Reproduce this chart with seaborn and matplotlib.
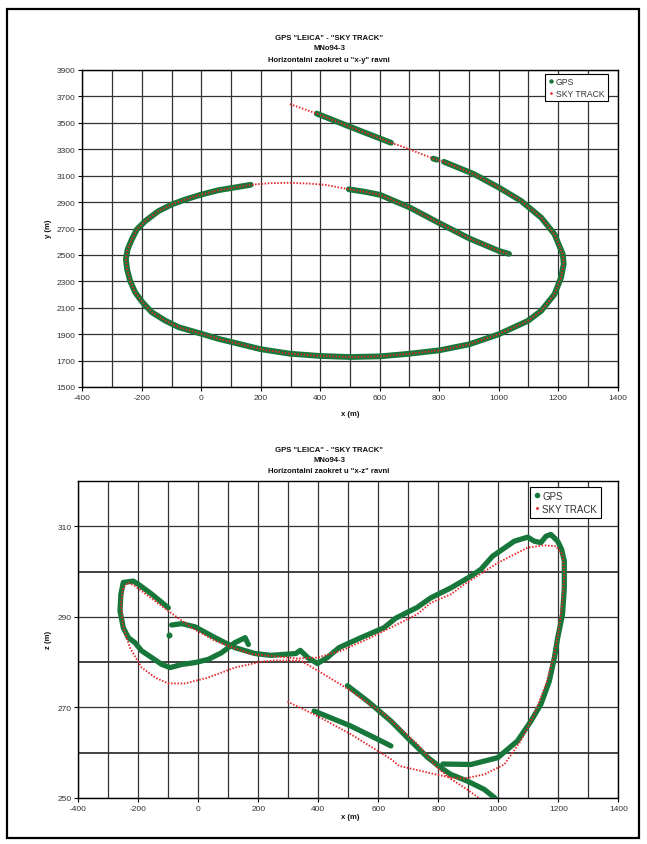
import numpy as np
import pandas as pd
import matplotlib
matplotlib.use("Agg")
import matplotlib.pyplot as plt
import seaborn as sns
from matplotlib.lines import Line2D
from matplotlib.patches import Rectangle
from matplotlib.ticker import MultipleLocator, FixedLocator

# ---------------- DATA: top chart (x-y plane) ----------------
sky_xy_x = [298, 385, 500, 638, 669, 782, 816, 917, 1000, 1075, 1143, 1188, 1216, 1219, 1210,
            1188, 1143, 1098, 1000, 901, 801, 701, 601, 500, 399, 298, 200, 124, 57, 0,
            -77, -122, -167, -198, -223, -240, -250, -254, -248, -234, -217, -189, -145,
            -100, -55, 0, 57, 124, 166, 230, 298, 360, 416, 494, 550, 601, 701, 801, 901,
            1000, 1035]
sky_xy_y = [3642, 3572, 3470, 3349, 3326, 3228, 3205, 3112, 3011, 2910, 2783, 2657, 2505, 2430, 2328,
            2202, 2076, 2000, 1899, 1823, 1778, 1752, 1732, 1727, 1735, 1752, 1786, 1828, 1865, 1903,
            1953, 2003, 2066, 2141, 2217, 2305, 2392, 2468, 2543, 2618, 2693, 2756, 2831,
            2882, 2919, 2957, 2990, 3015, 3031, 3043, 3046, 3040, 3031, 2998, 2978, 2955, 2859, 2740, 2625,
            2531, 2505]

gps_xy_a_x = [388, 500, 638]
gps_xy_a_y = [3570, 3470, 3349]
gps_xy_b_x = [780, 792]
gps_xy_b_y = [3229, 3221]
gps_xy_c_x = [816, 917, 1000, 1075, 1143, 1188, 1216, 1219, 1210, 1188, 1143, 1098, 1000, 901, 801,
              701, 601, 500, 399, 298, 200, 124, 57, 0, -77, -122, -167, -198, -223, -240, -250,
              -254, -248, -234, -217, -189, -145, -100, -55, 0, 57, 124, 166]
gps_xy_c_y = [3205, 3112, 3011, 2910, 2783, 2657, 2505, 2430, 2328, 2202, 2076, 2000, 1899, 1823, 1778,
              1752, 1732, 1727, 1735, 1752, 1786, 1828, 1865, 1903, 1953, 2003, 2066, 2141, 2217, 2305, 2392,
              2468, 2543, 2618, 2693, 2756, 2831, 2882, 2919, 2957, 2990, 3015, 3031]
gps_xy_d_x = [496, 550, 601, 701, 801, 901, 1000, 1035]
gps_xy_d_y = [2997, 2978, 2955, 2859, 2740, 2625, 2531, 2508]

# ---------------- DATA: bottom chart (x-z plane) ----------------
sky_xz_x = [297, 397, 508, 642, 669, 786, 842, 887, 953, 1020, 1075, 1120, 1159, 1187, 1203, 1214,
            1220, 1214, 1192, 1153, 1098, 998, 887, 842, 775, 730, 653, 564, 475, 397, 330, 256,
            175, 145, 56, -22, -100, -167, -211, -233, -250, -258, -250, -228, -189, -144, -100,
            -44, 33, 122, 211, 256, 342, 419, 508, 619, 730, 797, 842, 887, 942, 952]
sky_xz_z = [271.3, 268.1, 264.1, 258.6, 257.1, 255.3, 254.5, 254.3, 255.2, 257.4, 262.6, 268.5, 275.1,
            281.7, 287.6, 293.5, 299.4, 303.8, 305.6, 305.8, 305.3, 301.9, 297.2, 295.0, 293.1, 290.6,
            288.0, 285.1, 282.5, 281.0, 280.8, 281.3, 281.8, 282.5, 284.7, 287.6, 291.3, 294.6, 296.8,
            297.6, 296.5, 292.8, 287.6, 283.2, 278.8, 276.6, 275.3, 275.3, 276.6, 278.8, 280.1, 280.4,
            280.3, 277.3, 273.7, 268.5, 261.9, 256.7, 254.2, 252.3, 249.7, 249.2]

gps_xz_a_x = [386, 453, 508, 597, 642]
gps_xz_a_z = [269.2, 267.4, 265.9, 263.0, 261.5]
gps_xz_b_x = [815, 909, 998, 1064, 1109, 1142, 1170, 1187, 1198, 1214, 1220, 1220, 1211, 1198, 1175,
              1159, 1142, 1120, 1098, 1053, 1014, 981, 942, 909, 842, 775, 730, 658, 619, 542, 469,
              430, 397, 365, 340, 325, 242, 189, 122, 56, -11, -55, -89]
gps_xz_b_z = [257.5, 257.4, 258.9, 262.6, 267.0, 270.7, 275.8, 281.0, 285.4, 290.5, 296.4, 302.3, 304.9,
              306.7, 308.2, 307.8, 306.4, 306.7, 307.6, 306.7, 304.9, 303.4, 300.5, 299.0, 296.4, 294.2,
              292.1, 289.7, 287.6, 285.4, 283.2, 281.0, 279.7, 281.0, 282.6, 281.9, 281.5, 281.9, 283.2,
              285.4, 287.8, 288.5, 288.2]
gps_xz_c_x = [-97]
gps_xz_c_z = [286.1]
gps_xz_d_x = [-100, -155, -200, -217, -250, -258, -261, -250, -233, -211, -189, -155, -122, -94, -55,
              -11, 33, 78, 122, 156, 167]
gps_xz_d_z = [292.0, 295.0, 297.2, 297.9, 297.6, 295.0, 291.3, 287.6, 285.4, 284.3, 282.5, 281.0, 279.5,
              278.8, 279.5, 279.9, 280.6, 282.1, 284.3, 285.4, 283.9]
gps_xz_e_x = [497, 564, 642, 708, 764, 808, 842, 898, 953, 987, 996]
gps_xz_e_z = [274.8, 271.4, 267.0, 262.6, 259.0, 256.7, 255.2, 253.7, 251.9, 250.1, 249.5]

x_ticks = [-400, -200, 0, 200, 400, 600, 800, 1000, 1200, 1400]
y_ticks_top = [1500, 1700, 1900, 2100, 2300, 2500, 2700, 2900, 3100, 3300, 3500, 3700, 3900]
z_ticks = [250, 270, 290, 310]
z_minor = [260, 280, 300]

titles_top = ['GPS "LEICA" - "SKY TRACK"', 'MNo94-3', 'Horizontalni zaokret u "x-y" ravni']
titles_bot = ['GPS "LEICA" - "SKY TRACK"', 'MNo94-3', 'Horizontalni zaokret u "x-z" ravni']
series_names = ["GPS", "SKY TRACK"]

GREEN = "#17773a"
RED = "#e8262a"
GRID = "#333333"


def seg_frame(segs):
    rows = []
    for i, (xs, ys) in enumerate(segs):
        for j, (a, b) in enumerate(zip(xs, ys)):
            rows.append({"x": a, "y": b, "seg": i, "ord": j})
    return pd.DataFrame(rows)


sns.set_theme(style="white")
plt.rcParams["font.family"] = ["Liberation Sans", "DejaVu Sans"]
plt.rcParams["axes.unicode_minus"] = False

W, H = 647, 845
fig = plt.figure(figsize=(W / 100, H / 100), dpi=100)
fig.patch.set_facecolor("white")


def fx(px):
    return px / W


def fy(py):
    return 1 - py / H


ax1 = fig.add_axes([fx(82.5), fy(388), fx(617.5) - fx(82.5), fy(71) - fy(388)])
ax2 = fig.add_axes([fx(78.3), fy(799), fx(618.3) - fx(78.3), fy(482) - fy(799)])


def draw(ax, gps_segs, sky_x, sky_y, glw):
    lines = [s for s in gps_segs if len(s[0]) > 1]
    dots = [s for s in gps_segs if len(s[0]) == 1]
    gdf = seg_frame(lines)
    sns.lineplot(data=gdf, x="x", y="y", units="seg", estimator=None, sort=False,
                 color=GREEN, lw=glw, solid_capstyle="round", solid_joinstyle="round",
                 ax=ax, legend=False, zorder=3)
    if dots:
        ddf = seg_frame(dots)
        sns.scatterplot(data=ddf, x="x", y="y", color=GREEN, s=glw * glw * 1.3,
                        linewidth=0, ax=ax, legend=False, zorder=3)
    sdf = seg_frame([(sky_x, sky_y)])
    sns.lineplot(data=sdf, x="x", y="y", units="seg", estimator=None, sort=False,
                 color=RED, lw=1.35, ls=(0, (0.8, 0.9)), ax=ax, legend=False, zorder=4)
    ax.set_xlabel("")
    ax.set_ylabel("")
    ax.set_xlim(-400, 1400)
    ax.xaxis.set_major_locator(FixedLocator(x_ticks))
    ax.xaxis.set_minor_locator(MultipleLocator(100))
    ax.set_axisbelow(True)
    for s in ax.spines.values():
        s.set_color("black")
        s.set_linewidth(1.0)
    ax.tick_params(which="major", direction="out", length=3, width=0.8, color="black",
                   labelsize=6, labelcolor="#333333", pad=2, bottom=True, left=True)
    ax.tick_params(which="minor", length=0)


draw(ax1, [(gps_xy_a_x, gps_xy_a_y), (gps_xy_b_x, gps_xy_b_y), (gps_xy_c_x, gps_xy_c_y),
           (gps_xy_d_x, gps_xy_d_y)], sky_xy_x, sky_xy_y, 4.2)
ax1.set_ylim(1500, 3900)
ax1.yaxis.set_major_locator(FixedLocator(y_ticks_top))
ax1.grid(axis="x", which="both", color=GRID, lw=0.9)
ax1.grid(axis="y", which="major", color=GRID, lw=0.9)

draw(ax2, [(gps_xz_a_x, gps_xz_a_z), (gps_xz_b_x, gps_xz_b_z), (gps_xz_c_x, gps_xz_c_z),
           (gps_xz_d_x, gps_xz_d_z), (gps_xz_e_x, gps_xz_e_z)], sky_xz_x, sky_xz_z, 3.8)
ax2.set_ylim(250, 320)
ax2.yaxis.set_major_locator(FixedLocator(z_ticks))
ax2.yaxis.set_minor_locator(FixedLocator(z_minor))
ax2.grid(axis="x", which="both", color=GRID, lw=0.9)
ax2.grid(axis="y", which="major", color=GRID, lw=0.9)
ax2.grid(axis="y", which="minor", color=GRID, lw=1.3)

# titles and axis labels
TFAM = ["Liberation Sans Narrow", "Liberation Sans", "DejaVu Sans"]
for t, py in zip(titles_top, [38, 49, 60]):
    fig.text(fx(329), fy(py), t, ha="center", va="center", fontsize=5.6, weight="bold",
             family=TFAM, color="#111111")
for t, py in zip(titles_bot, [451, 461, 472]):
    fig.text(fx(329), fy(py), t, ha="center", va="center", fontsize=5.6, weight="bold",
             family=TFAM, color="#111111")
fig.text(fx(350), fy(415), "x (m)", ha="center", va="center", fontsize=5.6, weight="bold", color="#111111")
fig.text(fx(350), fy(818), "x (m)", ha="center", va="center", fontsize=5.6, weight="bold", color="#111111")
fig.text(fx(48), fy(229), "y (m)", ha="center", va="center", rotation=90, fontsize=5.6, weight="bold", color="#111111")
fig.text(fx(48), fy(640), "z (m)", ha="center", va="center", rotation=90, fontsize=5.6, weight="bold", color="#111111")


def legend(ax, anchor, fs, ms_g, ms_r):
    handles = [Line2D([], [], ls="none", marker="o", ms=ms_g, color=GREEN, mew=0),
               Line2D([], [], ls="none", marker="o", ms=ms_r, color=RED, mew=0)]
    lg = ax.legend(handles, series_names, loc="upper right", bbox_to_anchor=anchor,
                   bbox_transform=fig.transFigure, fontsize=fs, frameon=True, fancybox=False,
                   handlelength=0.7, handletextpad=0.2, borderpad=0.4, labelspacing=0.3,
                   borderaxespad=0)
    fr = lg.get_frame()
    fr.set_edgecolor("black")
    fr.set_linewidth(0.8)
    fr.set_facecolor("white")
    fr.set_alpha(1)
    for t in lg.get_texts():
        t.set_color("#333333")


legend(ax1, (fx(608), fy(75)), 6.2, 3.2, 1.9)
legend(ax2, (fx(601), fy(488)), 7.0, 4.0, 2.1)

# outer frame
fig.patches.append(Rectangle((fx(7), fy(839)), fx(639) - fx(7), fy(10) - fy(839),
                             transform=fig.transFigure, fill=False, edgecolor="black", lw=1.6))

fig.savefig("out.png", dpi=100, facecolor="white")
